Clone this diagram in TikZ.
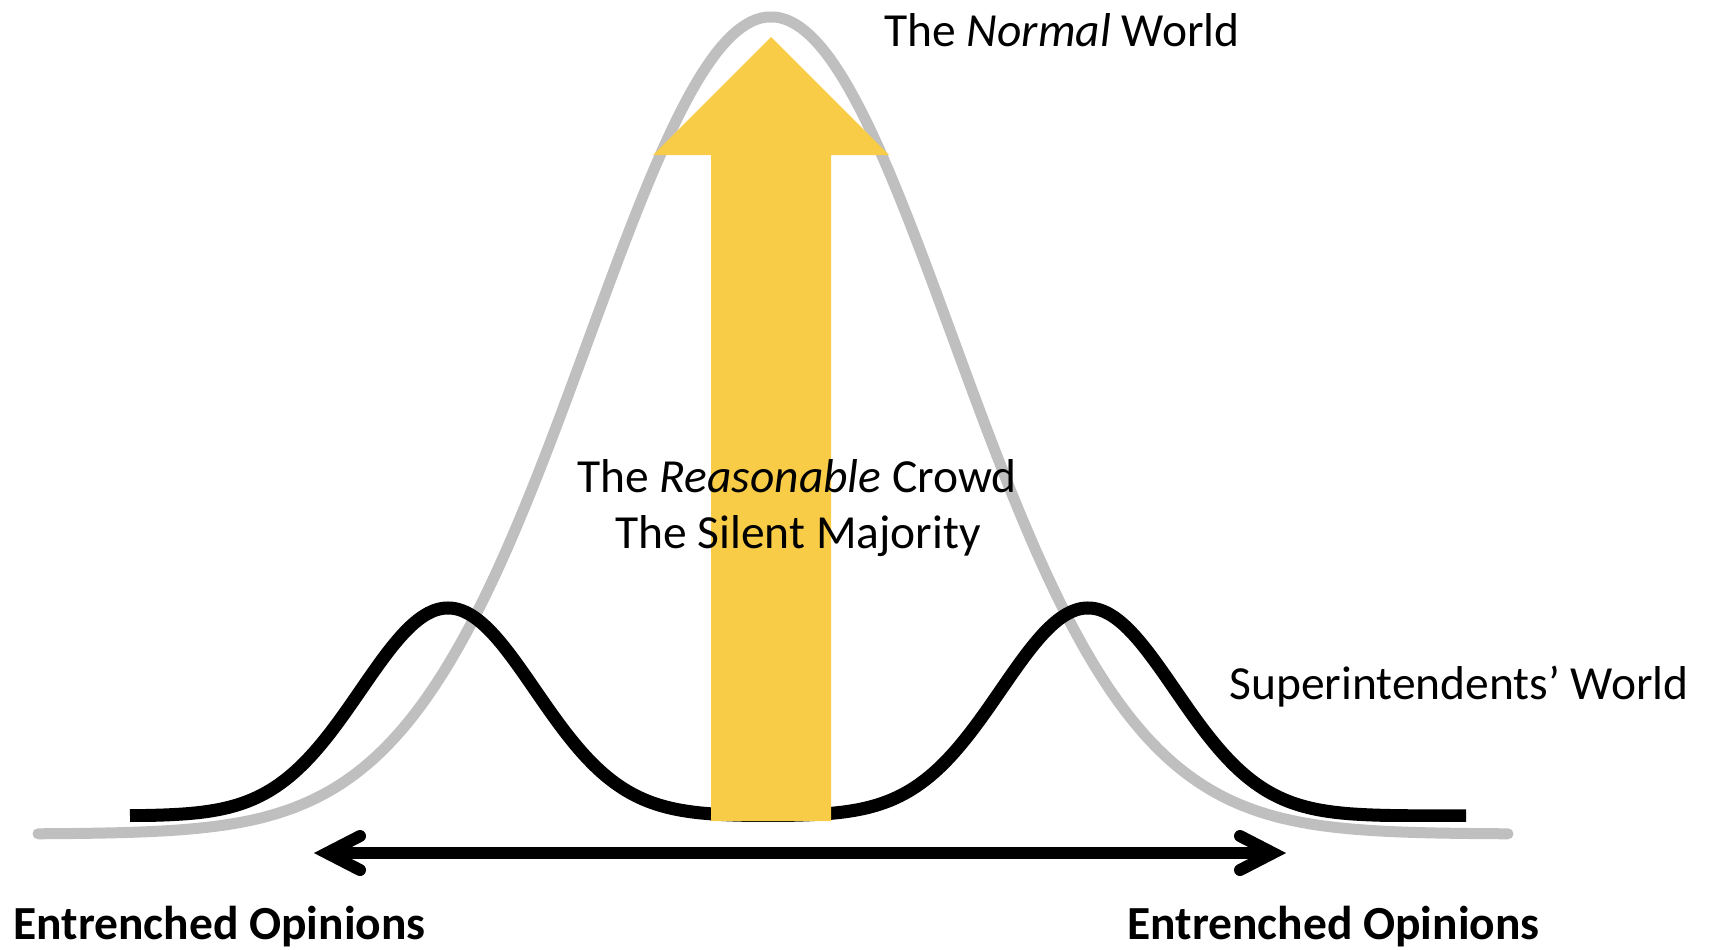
\documentclass[tikz,border=0pt]{standalone}
\usepackage{fontspec}
\setmainfont{Carlito}
\usetikzlibrary{calc}
\definecolor{curvegray}{RGB}{191,191,191}
\definecolor{arrowyellow}{RGB}{248,204,70}
\begin{document}
\begin{tikzpicture}[x=0.5pt,y=-0.5pt,
  normalcurve/.style={draw=curvegray,line width=5.5pt,line cap=round,line join=round},
  supcurve/.style={draw=black,line width=6.5pt,line cap=butt,line join=round},
  bigarrow/.style={fill=arrowyellow,draw=none},
  axisline/.style={draw=black,line width=6pt,line cap=butt},
  chevron/.style={draw=black,line width=6pt,line cap=round,line join=miter,miter limit=20},
  lbl/.style={inner sep=0pt,font=\fontsize{23.75}{28.5}\selectfont,anchor=base west},
  lblc/.style={inner sep=0pt,font=\fontsize{23.75}{28.5}\selectfont,anchor=base},
  lblb/.style={inner sep=0pt,font=\fontsize{23.75}{28.5}\selectfont\bfseries,anchor=base west}
]
\useasboundingbox (0,0) rectangle (1716,949);
% normal (gray) curve
\draw[normalcurve] plot[domain=38:1508,samples=300]
  (\x,{834-817*exp(-min(((\x-771)/182)^2/2,9))});
% superintendents' (black) bimodal curve, bottom edge trimmed flat
\begin{scope}
\clip (0,0) rectangle (1716,821);
\draw[supcurve] plot[domain=130:1466,samples=400]
  (\x,{816-208*(exp(-min(((\x-448)/87)^2/2,9))+exp(-min(((\x-1088)/87)^2/2,9)))});
\end{scope}
% yellow arrow
\fill[bigarrow] (711,821) -- (711,155) -- (653,155) -- (771,37) -- (889,155)
  -- (831,155) -- (831,821) -- cycle;
% double-headed axis arrow
\coordinate (L) at (327,853);
\coordinate (R) at (1273,853);
\draw[axisline] (L) -- (R);
\draw[chevron] ($(L)+(33,-17)$) -- (L) -- ($(L)+(33,17)$);
\draw[chevron] ($(R)+(-33,-17)$) -- (R) -- ($(R)+(-33,17)$);
% labels
\node[lbl] (normal) at (884,46) {The \textit{Normal} World};
\node[lblc] (reason) at (797,492) {The \textit{Reasonable} Crowd};
\node[lblc] (silent) at (798,548) {The Silent Majority};
\node[lbl] (super) at (1229,699) {Superintendents’ World};
\node[lblb] (entl) at (13,939) {Entrenched Opinions};
\node[lblb] (entr) at (1127,939) {Entrenched Opinions};
\end{tikzpicture}
\end{document}
